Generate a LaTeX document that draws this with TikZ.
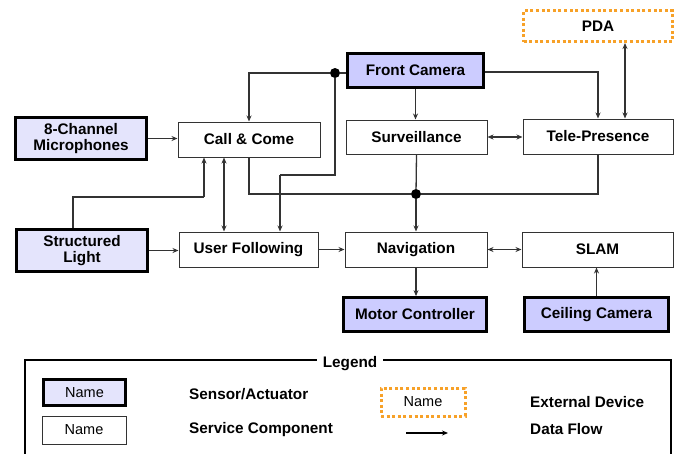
\documentclass[tikz,border=0pt]{standalone}
\usepackage{fontspec}
\setmainfont{Liberation Sans}
\usetikzlibrary{arrows.meta}
\definecolor{senslight}{HTML}{E4E4FC}
\definecolor{sensdark}{HTML}{CCCCFF}
\definecolor{linegray}{HTML}{333333}
\definecolor{extorange}{HTML}{F7A128}
\tikzset{
  box/.style={draw=linegray, line width=1pt, fill=white, inner sep=0pt,
    font=\fontsize{15.3}{16.5}\selectfont\bfseries, align=center},
  sens/.style={box, draw=black, line width=2.8pt, fill=sensdark},
  sensl/.style={sens, fill=senslight},
  ext/.style={box, draw=extorange, line width=3pt, dash pattern=on 3pt off 2.6pt},
  flow/.style={draw=linegray, line width=1.3pt, -{Stealth[length=6pt,width=5pt]}},
  flow2/.style={flow, {Stealth[length=6pt,width=5pt]}-{Stealth[length=6pt,width=5pt]}},
  line/.style={draw=linegray, line width=1.3pt},
  dot/.style={circle, fill=black, inner sep=0pt, minimum size=10pt},
  legtxt/.style={anchor=west, font=\fontsize{15.3}{16.5}\selectfont\bfseries, inner sep=0pt},
  legname/.style={font=\fontsize{14.5}{15}\selectfont},
}
\begin{document}
\begin{tikzpicture}[x=1pt,y=-1pt]
\useasboundingbox (0,0) rectangle (679,453);
\clip (0,0) rectangle (679,453);
\fill[white] (0,0) rectangle (679,453);
% nodes
\node[sensl, minimum width=131, minimum height=42] (mic) at (81,138.5) {8-Channel\\Microphones};
\node[box, minimum width=142, minimum height=35] (cc) at (249,139.5) {Call \& Come};
\node[sens, minimum width=136, minimum height=34] (fc) at (415.5,70.5) {Front Camera};
\node[box, minimum width=141, minimum height=34] (surv) at (416.5,137) {Surveillance};
\node[box, minimum width=150, minimum height=35] (tele) at (598,136.5) {Tele-Presence};
\node[ext, minimum width=149, minimum height=31] (pda) at (598,26) {PDA};
\node[sensl, minimum width=131, minimum height=42] (sl) at (82,250.5) {Structured\\Light};
\node[box, minimum width=139, minimum height=35] (uf) at (248.5,249.5) {User Following};
\node[box, minimum width=142, minimum height=35] (nav) at (416,249.5) {Navigation};
\node[box, minimum width=151, minimum height=35] (slam) at (597.5,249.5) {SLAM};
\node[sens, minimum width=143, minimum height=34] (mc) at (415,314.5) {Motor Controller};
\node[sens, minimum width=144, minimum height=34] (ceil) at (596.5,314.5) {Ceiling Camera};
% junctions
\node[dot] (j1) at (335,73) {};
\node[dot] (j2) at (416,194) {};
\coordinate (k1) at (280,175);
\coordinate (k2) at (204,197);
% connectors
\draw[line] (fc.west |- j1) -- (j1);
\draw[flow] (j1) -| (cc.north);
\draw[line] (j1) |- (k1);
\draw[flow] (k1) -- (k1 |- uf.north);
\draw[line] (cc.south) |- (j2);
\draw[line] (tele.south) |- (j2);
\draw[line] (surv.south) -- (j2);
\draw[flow, line width=1.8pt] (j2) -- (nav.north);
\draw[flow2] ([xshift=-25pt]cc.south) -- ([xshift=-24.5pt]uf.north);
\draw[line] ([xshift=-9pt]sl.north) |- (k2);
\draw[flow] (k2) -- (k2 |- cc.south);
\draw[flow] (mic.east) -- (cc.west |- mic.east);
\draw[flow] (sl.east) -- (uf.west |- sl.east);
\draw[flow] (uf.east) -- (nav.west);
\draw[flow] (fc.south) -- (surv.north -| fc.south);
\draw[flow] ([yshift=-1.5pt]fc.east) -| (tele.north);
\draw[flow2] ([xshift=27pt]pda.south) -- ([xshift=27pt]tele.north);
\draw[flow2] (surv.east) -- (tele.west |- surv.east);
\draw[flow2] (nav.east) -- (slam.west);
\draw[flow] (nav.south) -- (mc.north -| nav.south);
\draw[flow] (ceil.north) -- (slam.south -| ceil.north);
% legend
\draw[draw=black, line width=1.2pt] (25,460) -- (25,360) -- (671,360) -- (671,460);
\node[fill=white, inner xsep=6pt, inner ysep=2pt, font=\fontsize{15.3}{16.5}\selectfont\bfseries] (legend) at (350,363.5) {Legend};
\node[sensl, minimum width=82, minimum height=26, legname] (lsens) at (84.5,392.5) {Name};
\node[box, minimum width=84, minimum height=28, legname] (lsvc) at (84,430) {Name};
\node[ext, minimum width=84, minimum height=28, legname] (lext) at (423,402) {Name};
\node[legtxt] (tsens) at (189,394) {Sensor/Actuator};
\node[legtxt] (tsvc) at (189,430) {Service Component};
\node[legtxt] (text) at (530,402) {External Device};
\node[legtxt] (tflow) at (530,429) {Data Flow};
\coordinate (la) at (406,433);
\coordinate (lb) at (448,433);
\draw[flow, draw=black] (la) -- (lb);
\end{tikzpicture}
\end{document}
